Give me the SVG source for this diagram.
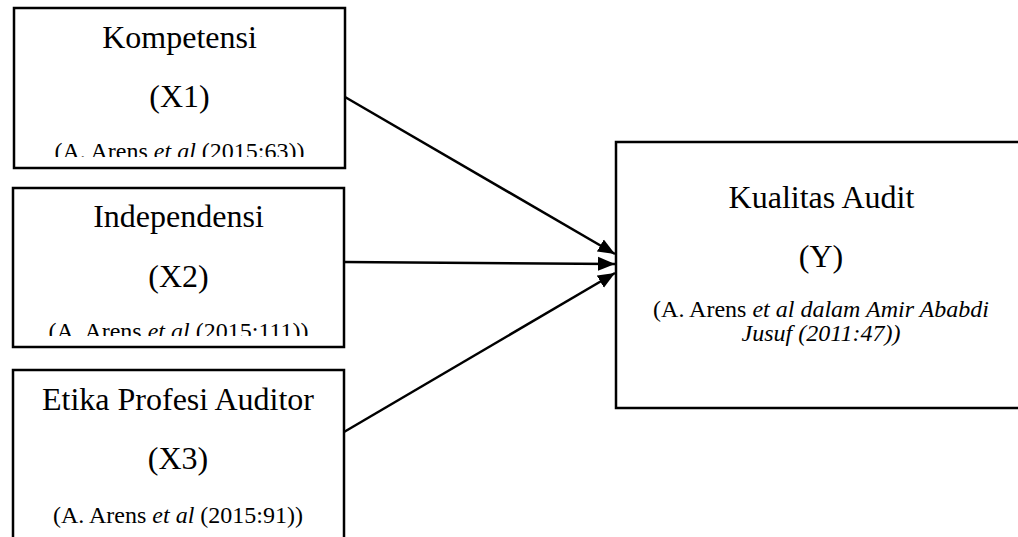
<svg xmlns="http://www.w3.org/2000/svg" width="1018" height="537" viewBox="0 0 1018 537">
<style>
.box{fill:#fff;stroke:#000;stroke-width:2.5}
.t{font-family:"Liberation Serif","Times New Roman",serif;fill:#000;text-anchor:middle}
.big{font-size:32px}
.sm{font-size:24px}
.it{font-style:italic}
.con{stroke:#000;stroke-width:2.5;fill:none;marker-end:url(#ah)}
</style>
<defs>
<marker id="ah" markerUnits="userSpaceOnUse" markerWidth="18" markerHeight="16" refX="17" refY="8" orient="auto">
<path d="M0,1 L17,8 L0,15 z" fill="#000"/>
</marker>
<clipPath id="c1"><rect x="14" y="8" width="331" height="149"/></clipPath>
<clipPath id="c2"><rect x="13" y="188" width="331" height="148"/></clipPath>
</defs>
<rect width="1018" height="537" fill="#fff"/>
<g id="x1">
<rect class="box" x="14" y="8" width="331" height="160"/>
<text class="t big" x="179.5" y="48">Kompetensi</text>
<text class="t big" x="179.5" y="107">(X1)</text>
<text class="t sm" x="179.5" y="159" clip-path="url(#c1)">(A. Arens <tspan class="it">et al</tspan> (2015:63))</text>
</g>
<g id="x2">
<rect class="box" x="13" y="188" width="331" height="159"/>
<text class="t big" x="178.5" y="227">Independensi</text>
<text class="t big" x="178.5" y="287">(X2)</text>
<text class="t sm" x="178.5" y="339" clip-path="url(#c2)">(A. Arens <tspan class="it">et al</tspan> (2015:111))</text>
</g>
<g id="x3">
<rect class="box" x="13" y="370" width="331" height="190"/>
<text class="t big" x="178" y="410">Etika Profesi Auditor</text>
<text class="t big" x="178" y="469">(X3)</text>
<text class="t sm" x="178" y="523">(A. Arens <tspan class="it">et al</tspan> (2015:91))</text>
</g>
<g id="y">
<rect class="box" x="616" y="142" width="420" height="266"/>
<text class="t big" x="821.5" y="208">Kualitas Audit</text>
<text class="t big" x="821" y="267">(Y)</text>
<text class="t sm" x="821" y="317">(A. Arens <tspan class="it">et al dalam Amir Ababdi</tspan></text>
<text class="t sm it" x="821" y="341">Jusuf (2011:47))</text>
</g>
<g id="connectors">
<line class="con" x1="345" y1="97" x2="615" y2="254"/>
<line class="con" x1="344" y1="262" x2="615" y2="264"/>
<line class="con" x1="344" y1="432" x2="615" y2="273"/>
</g>
</svg>
